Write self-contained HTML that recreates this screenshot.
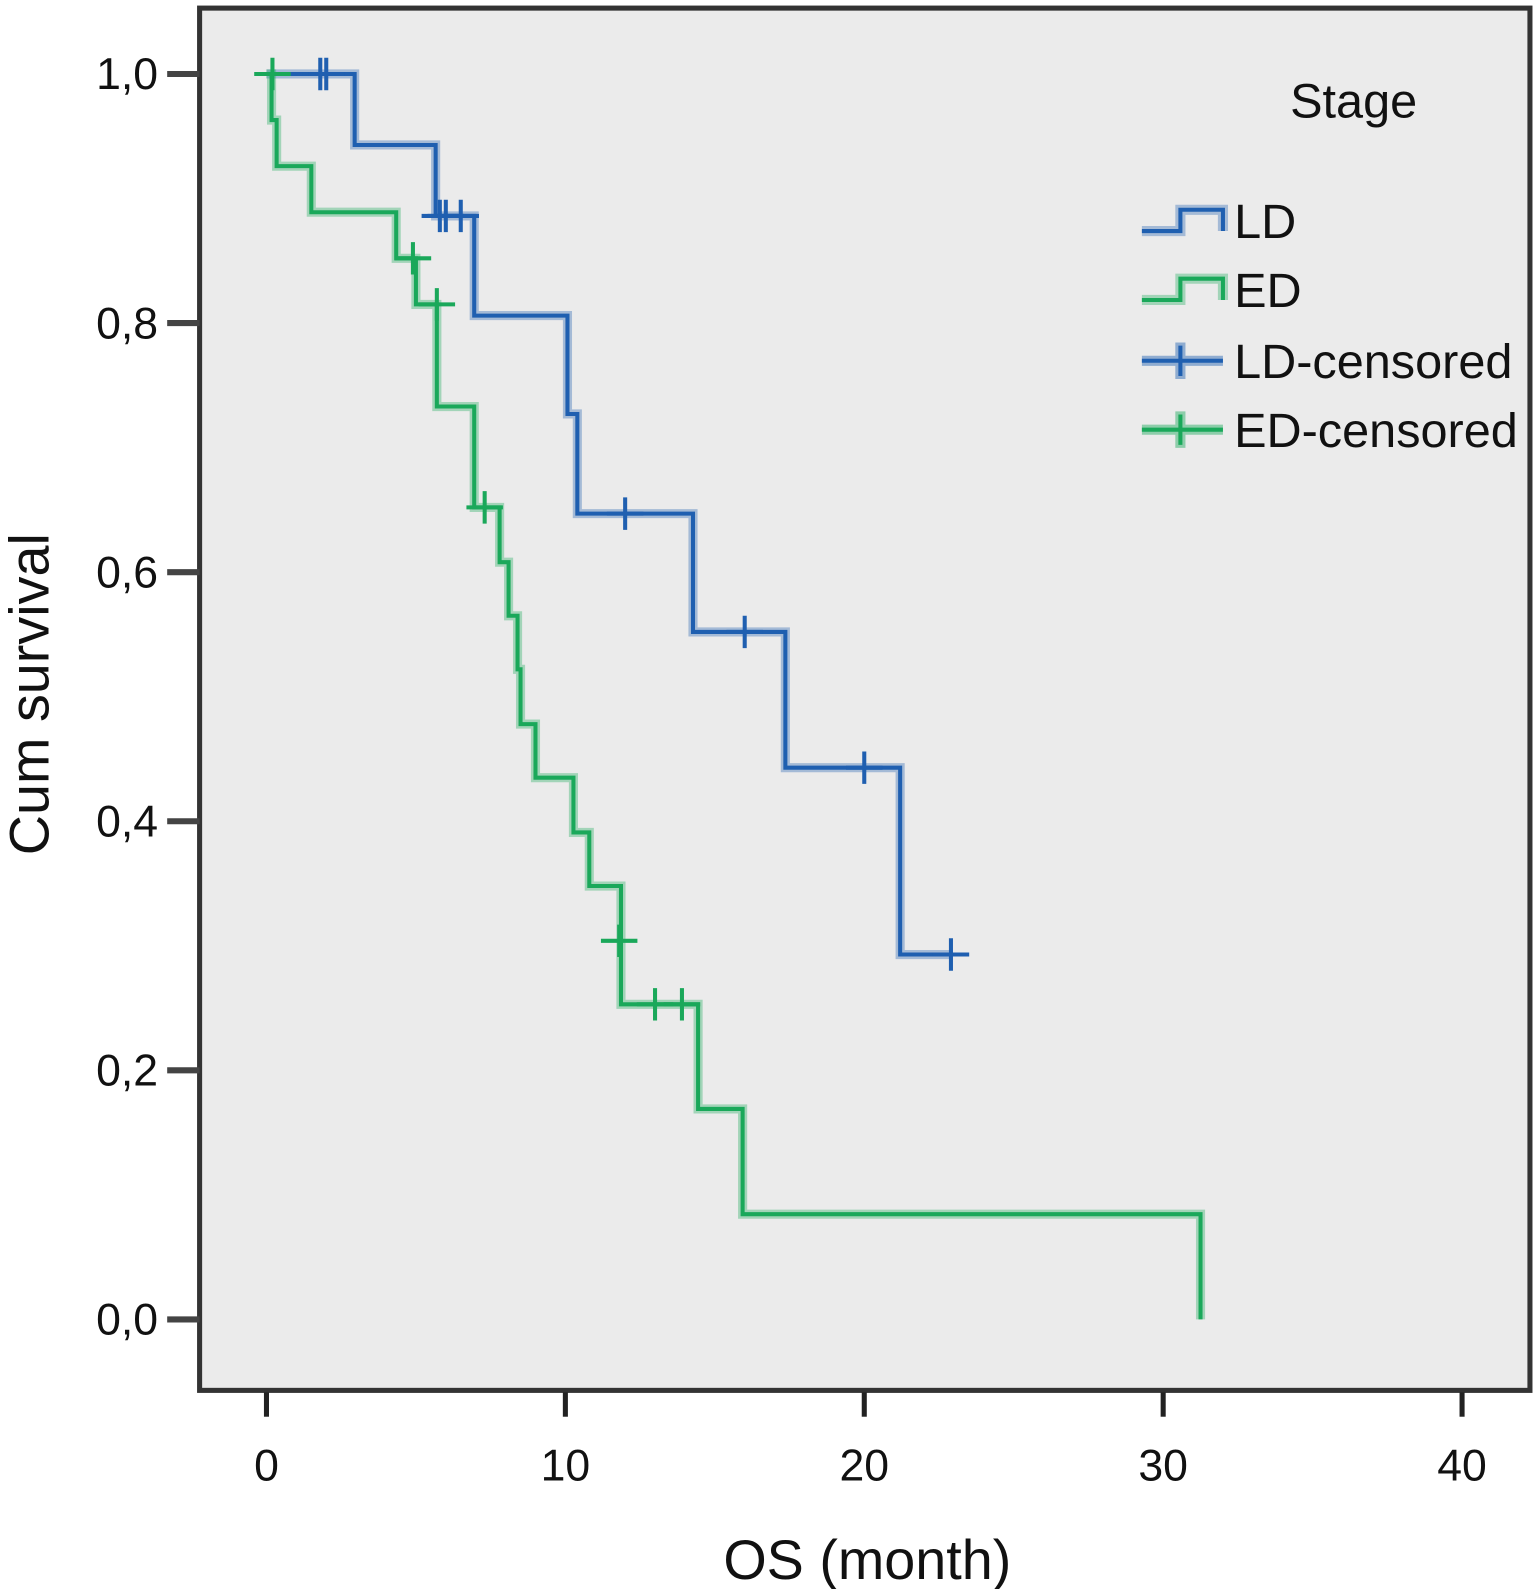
<!DOCTYPE html>
<html><head><meta charset="utf-8"><style>
html,body{margin:0;padding:0;background:#fff;}
svg{display:block;}
text{font-family:"Liberation Sans",sans-serif;fill:#111;}
</style></head><body>
<svg id="chart" width="1534" height="1589" viewBox="0 0 1514 1568" preserveAspectRatio="none" xmlns="http://www.w3.org/2000/svg">
<rect x="0" y="0" width="1514" height="1568" fill="#fff"/>
<rect x="197" y="8" width="1313" height="1364" fill="#ebebeb" stroke="#333" stroke-width="5"/>
<g id="axes"></g>
<g id="series"></g>
<text x="1336" y="116" font-size="48" text-anchor="middle">Stage</text>
<g>
<path d="M1127 228 H1165 V207 H1207 V228" fill="none" stroke="#1f5fb0" stroke-width="10" stroke-opacity="0.35"/>
<path d="M1127 228 H1165 V207 H1207 V228" fill="none" stroke="#1f5fb0" stroke-width="4"/>
<text x="1218" y="235" font-size="48">LD</text></g>
<g>
<path d="M1127 296 H1165 V275 H1207 V296" fill="none" stroke="#1aa85a" stroke-width="10" stroke-opacity="0.35"/>
<path d="M1127 296 H1165 V275 H1207 V296" fill="none" stroke="#1aa85a" stroke-width="4"/>
<text x="1218" y="303" font-size="48">ED</text></g>
<g>
<path d="M1127 356 H1207 M1165 338 V374" stroke="#1f5fb0" stroke-width="10" stroke-opacity="0.45"/>
<path d="M1127 356 H1207 M1165 341 V371" stroke="#1f5fb0" stroke-width="4"/>
<text x="1218" y="373" font-size="48">LD-censored</text></g>
<g>
<path d="M1127 424 H1207 M1165 406 V442" stroke="#1aa85a" stroke-width="10" stroke-opacity="0.45"/>
<path d="M1127 424 H1207 M1165 409 V439" stroke="#1aa85a" stroke-width="4"/>
<text x="1218" y="441" font-size="48">ED-censored</text></g>
<text x="856" y="1558" font-size="55" text-anchor="middle">OS (month)</text>
<text transform="translate(48,685) rotate(-90)" font-size="55" text-anchor="middle">Cum survival</text>
</svg>
<script>
const xTicks=[0,10,20,30,40];
const yTicks=[0,0.2,0.4,0.6,0.8,1.0];
const yTickLabels=["0,0","0,2","0,4","0,6","0,8","1,0"];
const ldTimes=[0,2.95,5.66,6.95,10.07,10.4,14.27,17.36,21.2,22.9];
const ldSurv=[1.0,0.943,0.886,0.806,0.727,0.647,0.552,0.443,0.293,0.293];
const ldCensorTimes=[1.8,2.0,5.8,6.0,6.5,22.9,12.0,16.0,20.0];
const ldCensorSurv=[1.0,1.0,0.886,0.886,0.886,0.293,0.647,0.552,0.443];
const edTimes=[0,0.17,0.34,1.5,4.34,5.0,5.7,6.95,7.8,8.1,8.4,8.5,9.0,10.27,10.8,11.86,14.44,15.93,31.25];
const edSurv=[1.0,0.963,0.926,0.889,0.852,0.815,0.733,0.652,0.608,0.565,0.522,0.478,0.435,0.391,0.348,0.253,0.169,0.0845,0];
const edCensorTimes=[0.2,4.9,5.7,7.3,11.8,13.0,13.9];
const edCensorSurv=[1.0,0.852,0.815,0.652,0.304,0.253,0.253];
const X=v=>263+v*29.5;
const Y=v=>1302-v*1229;
const NS="http://www.w3.org/2000/svg";
function mk(tag,attrs,parent){const e=document.createElementNS(NS,tag);for(const k in attrs)e.setAttribute(k,attrs[k]);parent.appendChild(e);return e;}
const axes=document.getElementById('axes');
xTicks.forEach(t=>{
  const l=mk('line',{x1:X(t),x2:X(t),y1:1374,y2:1398,stroke:'#222','stroke-width':5},axes);
  
  
  const tx=mk('text',{x:X(t),y:1461,'font-size':44,'text-anchor':'middle'},axes);
  tx.textContent=t;
  
  
});
yTicks.forEach((t,i)=>{
  const l=mk('line',{x1:165,x2:197,y1:Y(t),y2:Y(t),stroke:'#444','stroke-width':6},axes);
  
  
  const tx=mk('text',{x:156,y:Y(t)+15,'font-size':44,'text-anchor':'end'},axes);
  tx.textContent=yTickLabels[i];
  
  
});
const series=document.getElementById('series');
function stepPath(ts,ss){let d='M'+X(ts[0])+' '+Y(ss[0]);for(let i=1;i<ts.length;i++){d+=' H'+X(ts[i])+' V'+Y(ss[i]);}return d;}
function drawSeries(ts,ss,cts,css,color,name){
  const d=stepPath(ts,ss);
  const h=mk('path',{d:d,fill:'none',stroke:color,'stroke-width':9,'stroke-opacity':0.35},series);
  
  
  const p=mk('path',{d:d,fill:'none',stroke:color,'stroke-width':4},series);
  
  
  cts.forEach((t,i)=>{
    const x=X(t),y=Y(css[i]);
    const g=mk('path',{d:`M${x-18} ${y} H${x+18} M${x} ${y-16} V${y+16}`,stroke:color,'stroke-width':4},series);
    
    
  });
}
drawSeries(ldTimes,ldSurv,ldCensorTimes,ldCensorSurv,'#1f5fb0','ld');
drawSeries(edTimes,edSurv,edCensorTimes,edCensorSurv,'#1aa85a','ed');
</script>
</body></html>
